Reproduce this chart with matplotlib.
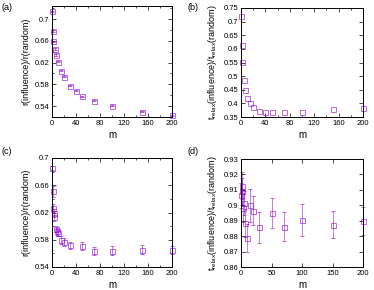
import numpy as np
import matplotlib.pyplot as plt
from matplotlib.ticker import MultipleLocator

plt.rcParams['font.family'] = ['Liberation Sans', 'DejaVu Sans']
plt.rcParams['mathtext.fontset'] = 'custom'
plt.rcParams['mathtext.rm'] = 'Liberation Sans'

# data
m_a = [0, 1, 2, 5, 7, 10, 15, 20, 30, 40, 50, 70, 100, 150, 200]
r_a = [0.7147, 0.678, 0.659, 0.645, 0.634, 0.6215, 0.605, 0.594, 0.5776,
       0.568, 0.558, 0.550, 0.5406, 0.5296, 0.5235]
err_a = [0.001] * len(m_a)

m_b = [0, 1, 2, 5, 7, 10, 15, 20, 30, 40, 50, 70, 100, 150, 200]
t_b = [0.722, 0.6155, 0.551, 0.485, 0.448, 0.418, 0.400, 0.388, 0.373,
       0.367, 0.367, 0.367, 0.370, 0.378, 0.382]

m_c = [0, 1, 2, 3, 4, 6, 8, 10, 15, 20, 30, 50, 70, 100, 150, 200]
r_c = [0.6848, 0.6511, 0.6266, 0.6194, 0.6129, 0.5958, 0.5924, 0.59, 0.5792,
       0.5772, 0.5718, 0.5713, 0.564, 0.564, 0.5655, 0.5655]
err_c = [0.003, 0.0085, 0.006, 0.006, 0.006, 0.005, 0.005, 0.005, 0.006,
         0.006, 0.005, 0.006, 0.006, 0.007, 0.007, 0.006]

m_d = [0, 1, 2, 3, 5, 7, 10, 15, 20, 30, 50, 70, 100, 150, 200]
t_d = [0.9064, 0.9128, 0.909, 0.898, 0.9014, 0.8884, 0.8786, 0.8999, 0.8966,
       0.8858, 0.8951, 0.8862, 0.8903, 0.8875, 0.8897]
err_d = [0.008, 0.009, 0.009, 0.009, 0.008, 0.009, 0.009, 0.0105, 0.0097,
         0.01, 0.0099, 0.0093, 0.0105, 0.0088, 0.009]

W, H = 374, 290
fig = plt.figure(figsize=(W / 100, H / 100), dpi=100)


def box(l, t, r, b):
    return fig.add_axes([l / W, 1 - b / H, (r - l) / W, (b - t) / H])


col = '#9400d3'
ylab_r = 'r(influence)/r(random)'
ylab_t = r't$_{\mathrm{relax}}$(influence)/t$_{\mathrm{relax}}$(random)'

axes = [box(52, 6, 172, 117), box(241, 8, 363, 117),
        box(52, 158, 172, 267), box(241, 159, 363, 267)]
ax_a, ax_b, ax_c, ax_d = axes

eb = dict(fmt='s', ms=3.6, mfc='none', mec=col, ecolor=col, elinewidth=0.6,
          capsize=1.5, mew=0.7, alpha=0.6, clip_on=False)
ax_a.errorbar(m_a, r_a, yerr=err_a, **eb)
ax_b.plot(m_b, t_b, 's', ms=3.6, mfc='none', mec=col, mew=0.7, alpha=0.6,
          clip_on=False)
ax_c.errorbar(m_c, r_c, yerr=err_c, **eb)
ax_d.errorbar(m_d, t_d, yerr=err_d, **eb)

ax_a.set_ylim(0.52, 0.724)
ax_a.set_yticks([0.54, 0.58, 0.62, 0.66, 0.7])
ax_a.set_yticklabels(['0.54', '0.58', '0.62', '0.66', '0.7'])
ax_a.yaxis.set_minor_locator(MultipleLocator(0.02))

ax_b.set_ylim(0.35, 0.75)
ax_b.set_yticks(np.arange(0.35, 0.76, 0.05))
ax_b.set_yticklabels(['0.35', '0.4', '0.45', '0.5', '0.55', '0.6', '0.65', '0.7', '0.75'])

ax_c.set_ylim(0.54, 0.7)
ax_c.set_yticks([0.54, 0.58, 0.62, 0.66, 0.7])
ax_c.set_yticklabels(['0.54', '0.58', '0.62', '0.66', '0.7'])
ax_c.yaxis.set_minor_locator(MultipleLocator(0.02))

ax_d.set_ylim(0.86, 0.93)
ax_d.set_yticks(np.arange(0.86, 0.931, 0.01))
ax_d.set_yticklabels(['0.86', '0.87', '0.88', '0.89', '0.9', '0.91', '0.92', '0.93'])

for ax in (ax_a, ax_b, ax_c):
    ax.set_xticks([0, 40, 80, 120, 160, 200])
    ax.xaxis.set_minor_locator(MultipleLocator(20))
ax_d.set_xticks([0, 50, 100, 150, 200])

labels = ['(a)', '(b)', '(c)', '(d)']
label_xy = [(1, 3), (188, 3), (1, 147), (188, 147)]
ylabs = [ylab_r, ylab_t, ylab_r, ylab_t]
for ax, lab, xy, yl in zip(axes, labels, label_xy, ylabs):
    ax.set_xlim(0, 200)
    ax.tick_params(which='both', direction='in', top=True, right=True,
                   labelsize=5.5, pad=2, width=0.5)
    ax.tick_params(which='major', length=3)
    ax.tick_params(which='minor', length=1.5)
    for s in ax.spines.values():
        s.set_linewidth(0.7)
    ax.set_xlabel('m', fontsize=7, labelpad=2)
    ax.set_ylabel(yl, fontsize=6.5, labelpad=3)
    fig.text(xy[0] / W, 1 - xy[1] / H, lab, fontsize=6.5, ha='left', va='top')

fig.savefig('out.png', dpi=100)
